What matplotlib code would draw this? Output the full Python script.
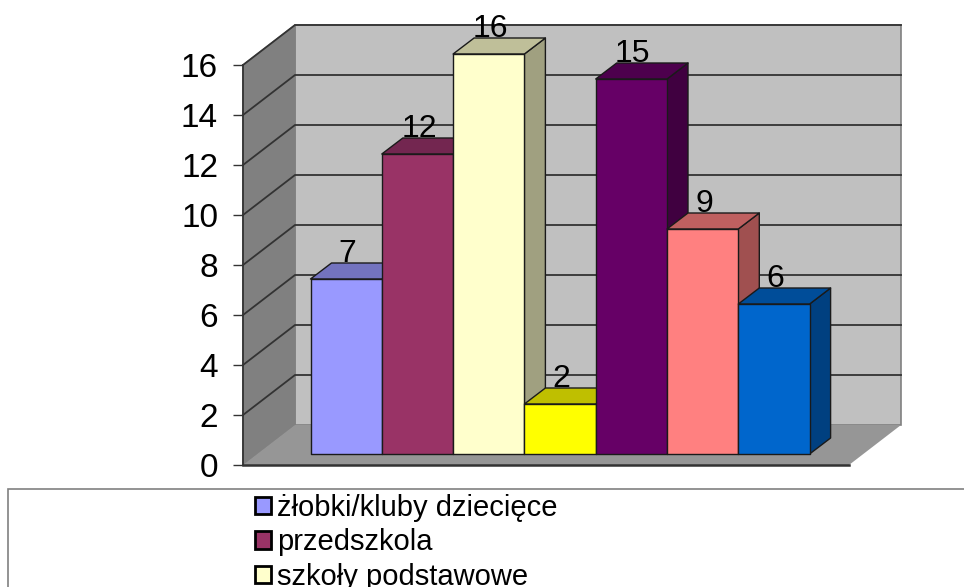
import matplotlib
matplotlib.use("Agg")
import matplotlib.pyplot as plt
from matplotlib.patches import Patch, Polygon, Rectangle

plt.rcParams["font.family"] = ["Liberation Sans", "DejaVu Sans"]

# ── Data ─────────────────────────────────────────────────

VALUES = [7, 12, 16, 2, 15, 9, 6]
FRONT_COLORS = ["#9999FF", "#993366", "#FFFFCC", "#FFFF00", "#660066", "#FF8080", "#0066CC"]
TOP_COLORS = ["#7373BF", "#732650", "#BFBF99", "#BFBF00", "#4D004D", "#BF6060", "#004D99"]
SIDE_COLORS = ["#606080", "#602040", "#A0A080", "#A0A000", "#400040", "#A05050", "#004080"]
LEGEND_LABELS = ["żłobki/kluby dziecięce", "przedszkola", "szkoły podstawowe"]
Y_TICKS = list(range(0, 17, 2))

# ── Layout (pixels of the 964x587 figure) ────────────────

W, H = 964, 587
BAR_PX = 71.3      # one bar = 1 x unit
UNIT_PX = 25.0     # one value = 1 y unit
BAR_LEFT = 310.5   # pixel x of bar 0
ZERO_Y = 465       # pixel y of value 0 on the front plane
WALL_LEFT = 243
FLOOR_RIGHT = 849

fig = plt.figure(figsize=(W / 100, H / 100), dpi=100)
ax = fig.add_axes([0, 0, 1, 1])
ax.set_xlim(-BAR_LEFT / BAR_PX, (W - BAR_LEFT) / BAR_PX)
ax.set_ylim((ZERO_Y - H) / UNIT_PX, ZERO_Y / UNIT_PX)


def dx(px):
    return px / BAR_PX


def dy(px):
    return px / UNIT_PX


def px_x(px):
    return (px - BAR_LEFT) / BAR_PX


def px_y(px):
    return (ZERO_Y - px) / UNIT_PX


# wall depth and bar depth, in data units
WALL_DX, WALL_DY = dx(52), dy(40)
BAR_DX, BAR_DY = dx(21), dy(16)
BAR_BASE = dy(11)

x0, x1 = px_x(WALL_LEFT), px_x(FLOOR_RIGHT)
top = Y_TICKS[-1]

# ── Walls and floor ──────────────────────────────────────

ax.add_patch(Rectangle((x0 + WALL_DX, WALL_DY), x1 - x0, top, fc="#C0C0C0", ec="#808080", lw=1.2, zorder=1))
ax.add_patch(Polygon([(x0, 0), (x0 + WALL_DX, WALL_DY), (x0 + WALL_DX, top + WALL_DY), (x0, top)],
                     fc="#808080", ec="#808080", lw=1, zorder=1))
ax.add_patch(Polygon([(x0, 0), (x1, 0), (x1 + WALL_DX, WALL_DY), (x0 + WALL_DX, WALL_DY)],
                     fc="#969696", ec="none", zorder=1))

for v in Y_TICKS[1:]:
    ax.plot([x0, x0 + WALL_DX, x1 + WALL_DX], [v, v + WALL_DY, v + WALL_DY],
            color="#333333", lw=1.3, zorder=2, solid_joinstyle="miter")
ax.plot([x0, x1], [0, 0], color="#333333", lw=1.8, zorder=2)

# ── Bars ─────────────────────────────────────────────────

for i, v in enumerate(VALUES):
    z = 3 + i
    y0, y1 = BAR_BASE, BAR_BASE + v
    edge = dict(ec="#1a1a1a", lw=1.0, joinstyle="round", zorder=z)
    ax.add_patch(Polygon([(i + 1, y0), (i + 1 + BAR_DX, y0 + BAR_DY), (i + 1 + BAR_DX, y1 + BAR_DY), (i + 1, y1)],
                         fc=SIDE_COLORS[i], **edge))
    ax.add_patch(Polygon([(i, y1), (i + 1, y1), (i + 1 + BAR_DX, y1 + BAR_DY), (i + BAR_DX, y1 + BAR_DY)],
                         fc=TOP_COLORS[i], **edge))
    ax.add_patch(Rectangle((i, y0), 1, v, fc=FRONT_COLORS[i], **edge))
    ax.text(i + 0.5 + dx(1.5), y1 + BAR_DY + dy(1), str(v), ha="center", va="baseline",
            fontsize=23, color="black", zorder=20)

# ── Axis ─────────────────────────────────────────────────

for name in ("top", "right", "bottom"):
    ax.spines[name].set_visible(False)
ax.spines["left"].set_position(("data", x0))
ax.spines["left"].set_bounds(0, top)
ax.spines["left"].set_color("#333333")
ax.spines["left"].set_linewidth(1.3)
ax.spines["left"].set_zorder(2)
ax.set_xticks([])
ax.set_yticks(Y_TICKS)
ax.tick_params(axis="y", length=7, width=1, color="#333333", labelsize=24, pad=11)
ax.patch.set_visible(False)

# ── Legend ───────────────────────────────────────────────

ax.add_patch(Rectangle((px_x(8), px_y(H + 20)), dx(W + 20), dy(H + 20 - 489),
                       fc="white", ec="#808080", lw=1.2, zorder=1))
handles = [Patch(fc=c, ec="black", lw=2) for c in FRONT_COLORS[:3]]
ax.legend(handles, LEGEND_LABELS, loc="upper left", bbox_to_anchor=(255 / W, 1 - 494 / H),
          bbox_transform=fig.transFigure, frameon=False, fontsize=21, borderpad=0, borderaxespad=0,
          handlelength=0.55, handleheight=0.55, handletextpad=0.2, labelspacing=0.22)

fig.savefig("out.png", dpi=100)
